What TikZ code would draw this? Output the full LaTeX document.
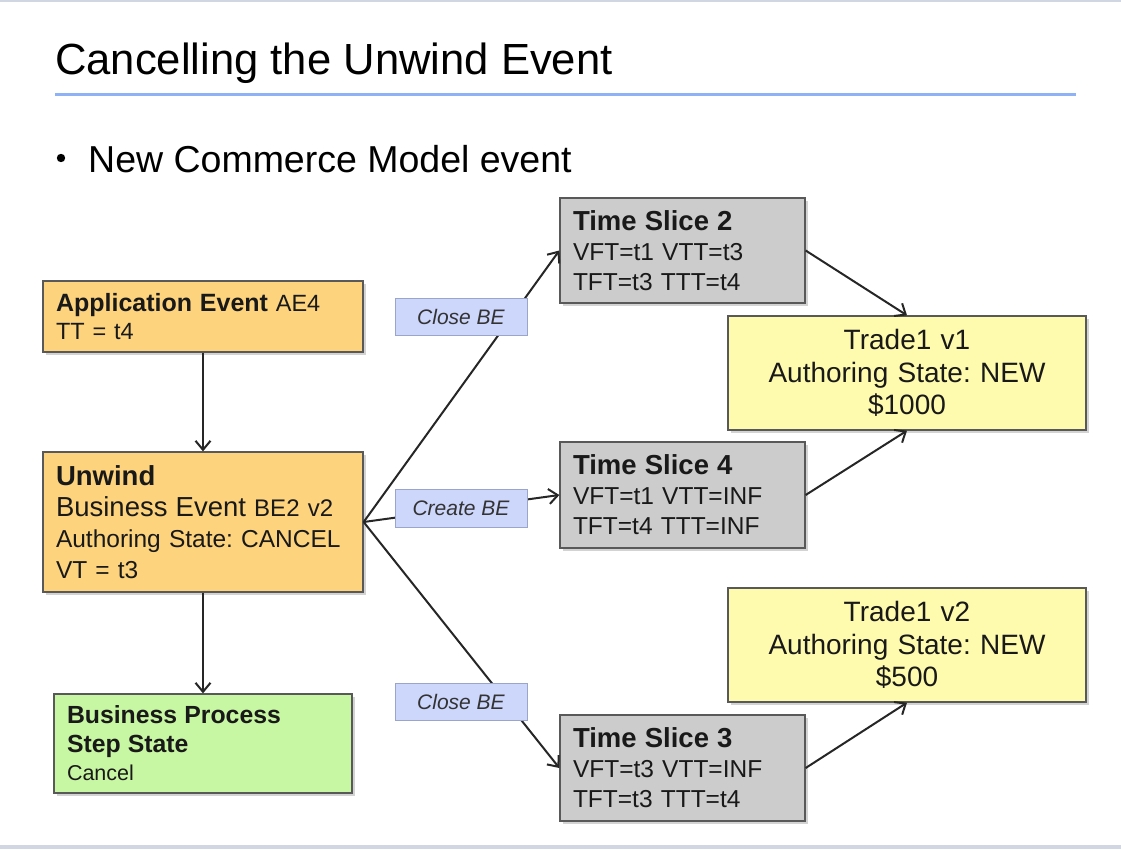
\documentclass[tikz,border=0pt]{standalone}
\usepackage{fontspec}
\setmainfont{Liberation Sans}
\usetikzlibrary{arrows.meta,shadows}
\frenchspacing

\definecolor{eventorange}{HTML}{FDD47D}
\definecolor{slicegray}{HTML}{CCCCCC}
\definecolor{tradeyellow}{HTML}{FFFBAE}
\definecolor{stepgreen}{HTML}{C8F7A3}
\definecolor{actionblue}{HTML}{CDD6FB}
\definecolor{actionedge}{HTML}{9AA5C9}
\definecolor{titlerule}{HTML}{8FB2F7}
\definecolor{frameband}{HTML}{D0D7E3}

\newcommand{\fsz}[2]{\fontsize{#1}{#2}\selectfont}

\tikzset{
  box/.style={draw=black!65, line width=1.3pt, inner xsep=13pt, inner ysep=0pt,
    text=black!90, drop shadow={shadow xshift=2.5pt, shadow yshift=-2.5pt, opacity=0.35}},
  eventbox/.style={box, fill=eventorange, text width=294pt, align=left},
  slicebox/.style={box, fill=slicegray, text width=219pt, align=left,
    minimum height=106pt, font=\fsz{24.5}{30}},
  tradebox/.style={box, fill=tradeyellow, text width=332pt, align=center,
    minimum height=114pt, font=\fsz{28}{32.5}},
  stepbox/.style={box, fill=stepgreen, text width=272pt, align=left},
  actionbox/.style={draw=actionedge, line width=1pt, fill=actionblue,
    minimum width=132pt, minimum height=37pt, inner sep=0pt,
    text=black!80, font=\fsz{21}{24}\itshape},
  link/.style={draw=black!85, line width=2pt,
    -{Straight Barb[length=9pt, width=15pt, line width=2pt]}}
}

\begin{document}
\begin{tikzpicture}[x=1pt, y=-1pt]

  \useasboundingbox (0,0) rectangle (1121,849);
  \fill[frameband] (0,0) rectangle (1121,2);
  \fill[frameband] (0,845) rectangle (1121,849);

  % heading
  \node[anchor=base west, inner sep=0pt, font=\fsz{43.6}{50}] (title) at (55,74) {Cancelling the Unwind Event};
  \draw[titlerule, line width=3pt] (55,94) -- (1076,94);
  \fill (61,158) circle (4.2);
  \node[anchor=base west, inner sep=0pt, font=\fsz{37.5}{44}] (bullet) at (88,172) {New Commerce Model event};

  % events
  \node[eventbox, minimum height=71pt, font=\fsz{23.5}{28}] (ae) at (203,316.5)
    {\fsz{25}{28}\textbf{Application Event} \fsz{23.5}{28}AE4\\TT = t4};
  \node[eventbox, minimum height=140pt, font=\fsz{24.5}{31}] (unwind) at (203,522)
    {\fsz{27.5}{31}\textbf{Unwind}\\\fsz{27.5}{31}Business Event \fsz{24}{31}BE2 v2\\\fsz{24.5}{31}Authoring State: CANCEL\\VT = t3};
  \node[stepbox, minimum height=99pt, font=\fsz{21.5}{28.5}] (bpss) at (203,743.5)
    {\fsz{24.8}{28.5}\textbf{Business Process}\\\fsz{24.8}{28.5}\textbf{Step State}\\\fsz{21.5}{28.5}Cancel};

  % time slices
  \node[slicebox, minimum height=105pt] (ts2) at (682.5,250.5)
    {\fsz{27.5}{30}\textbf{Time Slice 2}\\\fsz{24.5}{30}VFT=t1 VTT=t3\\TFT=t3 TTT=t4};
  \node[slicebox] (ts4) at (682.5,495)
    {\fsz{27.5}{30}\textbf{Time Slice 4}\\\fsz{24.5}{30}VFT=t1 VTT=INF\\TFT=t4 TTT=INF};
  \node[slicebox] (ts3) at (682.5,768)
    {\fsz{27.5}{30}\textbf{Time Slice 3}\\\fsz{24.5}{30}VFT=t3 VTT=INF\\TFT=t3 TTT=t4};

  % trades
  \node[tradebox] (tr1) at (907,373) {Trade1 v1\\Authoring State: NEW\\\$1000};
  \node[tradebox] (tr2) at (907,645) {Trade1 v2\\Authoring State: NEW\\\$500};

  % connectors
  \draw[link] (ae) -- (unwind);
  \draw[link] (unwind) -- (bpss);
  \draw[link] (unwind.east) -- (ts2.west);
  \draw[link] (unwind.east) -- (ts4.west);
  \draw[link] (unwind.east) -- (ts3.west);
  \draw[link] (ts2.east) -- (tr1.north);
  \draw[link] (ts4.east) -- (tr1.south);
  \draw[link] (ts3.east) -- (tr2.south);

  % actions on the fan
  \node[actionbox] (close1) at (461,317) {Close BE};
  \node[actionbox, minimum height=38pt] (create) at (461,508) {Create BE};
  \node[actionbox] (close2) at (461,701.5) {Close BE};

\end{tikzpicture}
\end{document}
